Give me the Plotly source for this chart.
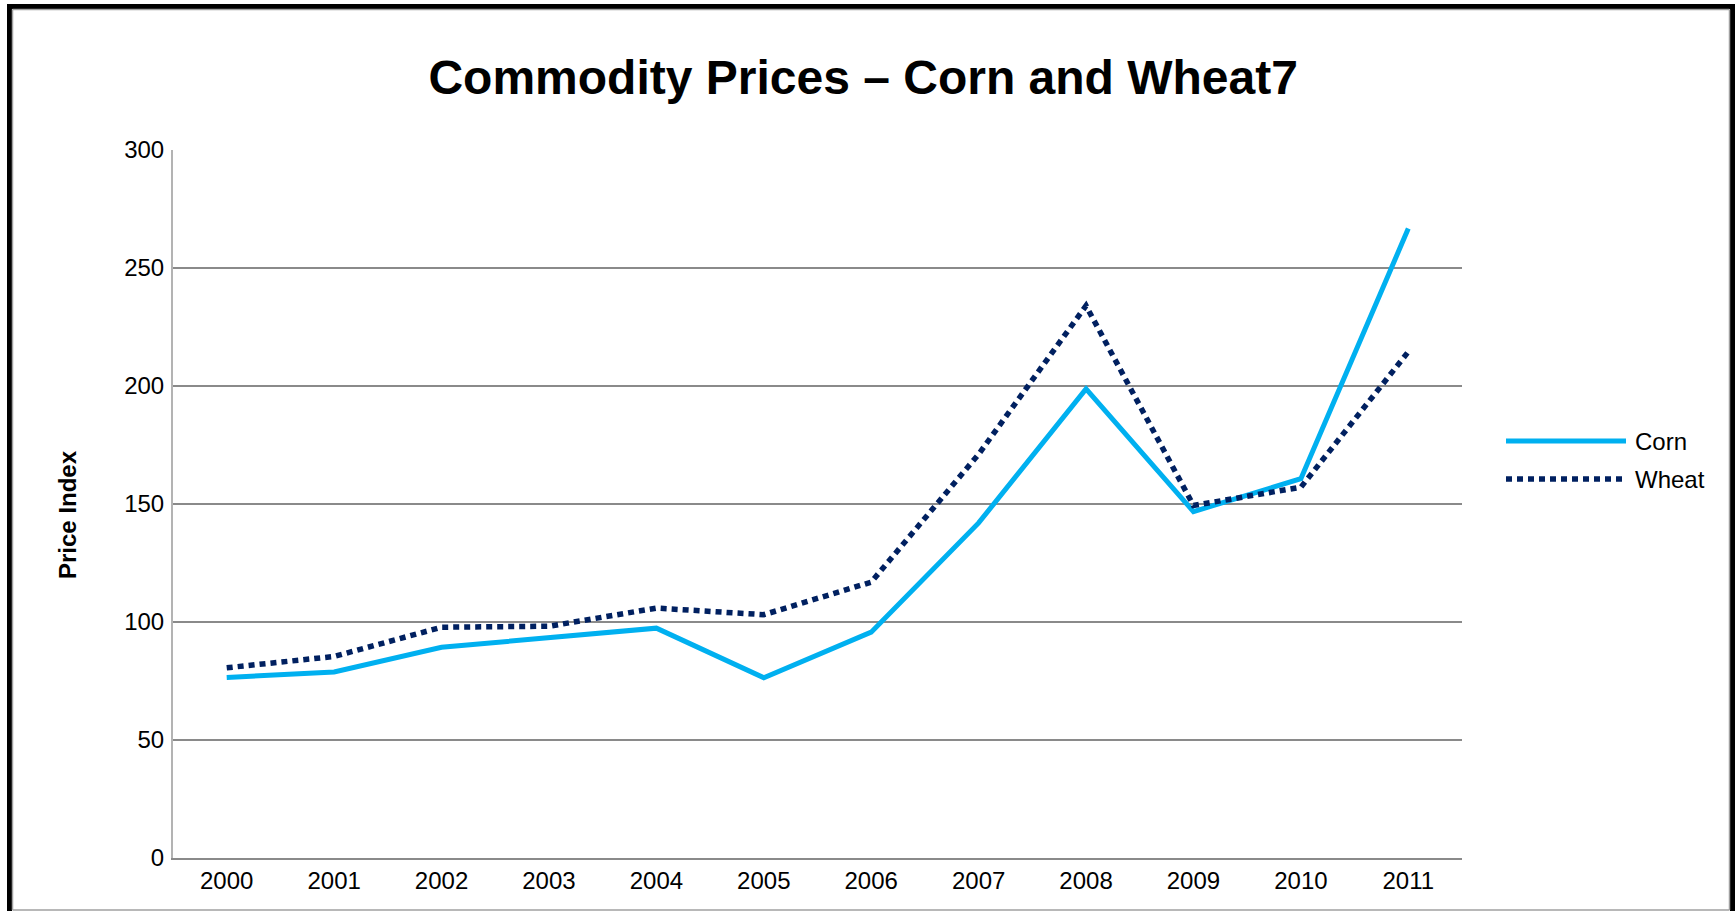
import plotly.graph_objects as go

years = ["2000", "2001", "2002", "2003", "2004", "2005", "2006", "2007", "2008", "2009", "2010", "2011"]
corn = [76.5, 78.8, 89.3, 93.5, 97.4, 76.4, 95.7, 142.0, 198.8, 146.8, 160.7, 266.7]
wheat = [80.6, 85.4, 97.8, 98.2, 105.9, 103.1, 116.9, 171.1, 234.0, 149.4, 157.1, 214.5]
y_ticks = [0, 50, 100, 150, 200, 250, 300]

W, H = 1735, 911
L, R, T, B = 173, 273, 150, 53
PW, PH = W - L - R, H - T - B

CORN_C = "#00b0f0"
WHEAT_C = "#002060"
FONT = "Liberation Sans, Arial, sans-serif"


def px(x):
    return (x - L) / PW


def py(y):
    return (H - B - y) / PH


fig = go.Figure()
fig.add_trace(go.Scatter(x=years, y=corn, mode="lines", name="Corn",
                         line=dict(color=CORN_C, width=5), showlegend=False))
fig.add_trace(go.Scatter(x=years, y=wheat, mode="lines", name="Wheat",
                         line=dict(color=WHEAT_C, width=5.5, dash="6px,5px"), showlegend=False))

shapes = []
# outer frame (black) and thin gray border
for x0, y0, x1, y1 in [(7, 4, 12, 911), (7, 4, 1735, 9), (1730, 4, 1735, 911)]:
    shapes.append(dict(type="rect", xref="paper", yref="paper",
                       x0=px(x0), x1=px(x1), y0=py(y0), y1=py(y1),
                       fillcolor="black", line=dict(width=0), layer="above"))
for x0, y0, x1, y1 in [(12.5, 9.5, 12.5, 910), (12.5, 9.5, 1729.5, 9.5),
                       (1729.5, 9.5, 1729.5, 910), (12.5, 910, 1729.5, 910)]:
    shapes.append(dict(type="line", xref="paper", yref="paper",
                       x0=px(x0), x1=px(x1), y0=py(y0), y1=py(y1),
                       line=dict(color="#a0a0a0", width=1.5), layer="above"))

# custom legend
legend_items = [("Corn", CORN_C, "solid", 441), ("Wheat", WHEAT_C, "6px,5px", 479)]
annotations = []
for name, col, dash, yy in legend_items:
    shapes.append(dict(type="line", xref="paper", yref="paper",
                       x0=px(1506), x1=px(1626), y0=py(yy), y1=py(yy),
                       line=dict(color=col, width=5.5 if name == "Wheat" else 5, dash=dash)))
    annotations.append(dict(text=name, xref="paper", yref="paper",
                            x=px(1633), y=py(yy), xanchor="left", yanchor="middle",
                            showarrow=False, font=dict(family=FONT, size=24, color="black")))

annotations.append(dict(text="<b>Price Index</b>", xref="paper", yref="paper",
                        x=px(67), y=py(514), xanchor="center", yanchor="middle",
                        textangle=-90, showarrow=False,
                        font=dict(family=FONT, size=24, color="black")))

fig.update_layout(
    width=W, height=H,
    margin=dict(l=L, r=R, t=T, b=B, pad=0, autoexpand=False),
    paper_bgcolor="white", plot_bgcolor="white",
    title=dict(text="<b>Commodity Prices – Corn and Wheat7</b>",
               x=0.4975, xref="container", xanchor="center",
               y=1 - 77 / H, yref="container", yanchor="middle",
               font=dict(family=FONT, size=48, color="black")),
    font=dict(family=FONT, size=24, color="black"),
    shapes=shapes,
    annotations=annotations,
    showlegend=False,
)
fig.update_xaxes(type="category", range=[-0.5, len(years) - 0.5], automargin=False,
                 showgrid=False, showline=True, linecolor="#8a8a8a", linewidth=2,
                 ticks="", ticklabelstandoff=0, tickfont=dict(family=FONT, size=24, color="black"),
                 zeroline=False)
fig.update_yaxes(range=[0, 300], tickvals=y_ticks, showgrid=True, gridcolor="#8a8a8a",
                 gridwidth=1.5, showline=True, linecolor="#b3b3b3", linewidth=2, automargin=False,
                 ticks="", ticklabelstandoff=2, tickfont=dict(family=FONT, size=24, color="black"),
                 zeroline=False)

fig.write_html("out.html", config={"displayModeBar": False},
               post_script="document.body.style.margin='0';document.body.style.overflow='hidden';")
